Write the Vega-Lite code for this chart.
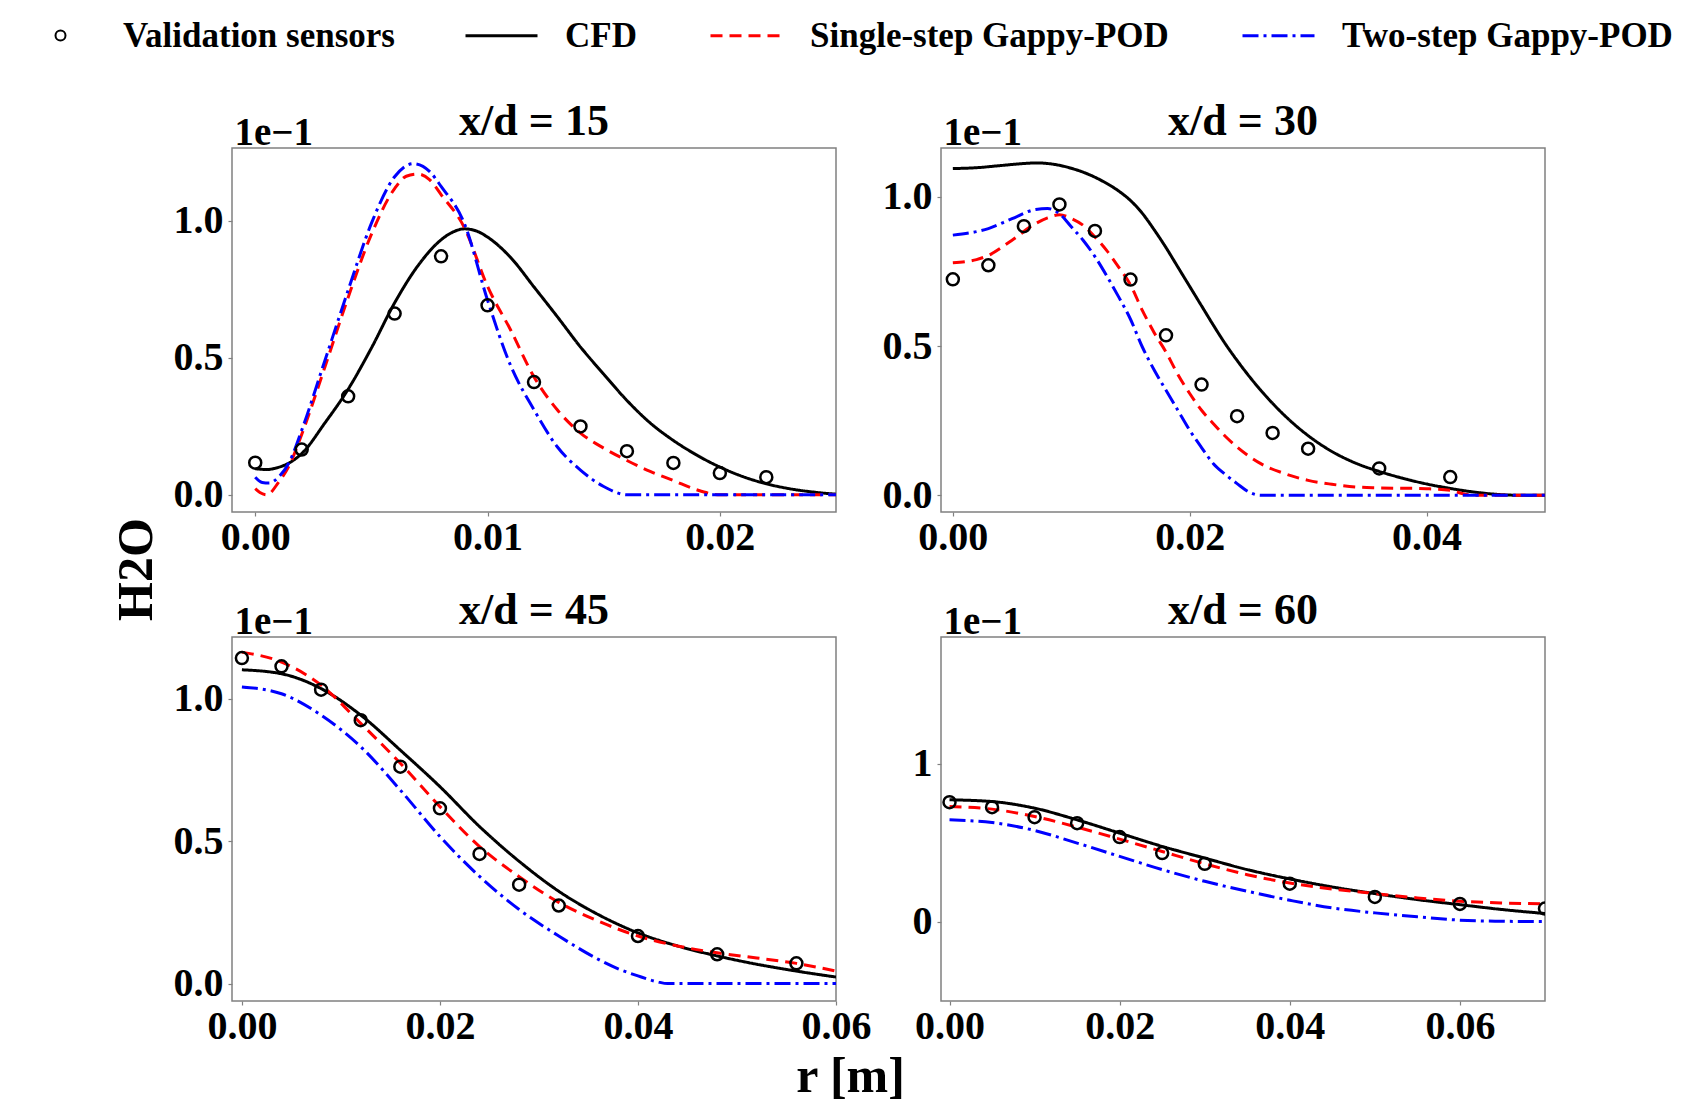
{
  "$schema": "https://vega.github.io/schema/vega-lite/v6.json",
  "padding": {"left": 43, "top": 18, "right": 5, "bottom": 5},
  "background": "white",
  "datasets": {
    "lines": [
      {"panel": 15, "method": "CFD", "r": 0, "v": 0.095},
      {"panel": 15, "method": "CFD", "r": 0.0005, "v": 0.092},
      {"panel": 15, "method": "CFD", "r": 0.001, "v": 0.1},
      {"panel": 15, "method": "CFD", "r": 0.0015, "v": 0.118},
      {"panel": 15, "method": "CFD", "r": 0.002, "v": 0.15},
      {"panel": 15, "method": "CFD", "r": 0.003, "v": 0.262},
      {"panel": 15, "method": "CFD", "r": 0.004, "v": 0.385},
      {"panel": 15, "method": "CFD", "r": 0.005, "v": 0.535},
      {"panel": 15, "method": "CFD", "r": 0.006, "v": 0.7},
      {"panel": 15, "method": "CFD", "r": 0.007, "v": 0.835},
      {"panel": 15, "method": "CFD", "r": 0.008, "v": 0.93},
      {"panel": 15, "method": "CFD", "r": 0.0085, "v": 0.958},
      {"panel": 15, "method": "CFD", "r": 0.009, "v": 0.97},
      {"panel": 15, "method": "CFD", "r": 0.0095, "v": 0.963},
      {"panel": 15, "method": "CFD", "r": 0.01, "v": 0.94},
      {"panel": 15, "method": "CFD", "r": 0.011, "v": 0.865},
      {"panel": 15, "method": "CFD", "r": 0.012, "v": 0.758},
      {"panel": 15, "method": "CFD", "r": 0.013, "v": 0.65},
      {"panel": 15, "method": "CFD", "r": 0.014, "v": 0.539},
      {"panel": 15, "method": "CFD", "r": 0.015, "v": 0.44},
      {"panel": 15, "method": "CFD", "r": 0.016, "v": 0.344},
      {"panel": 15, "method": "CFD", "r": 0.017, "v": 0.262},
      {"panel": 15, "method": "CFD", "r": 0.018, "v": 0.198},
      {"panel": 15, "method": "CFD", "r": 0.019, "v": 0.145},
      {"panel": 15, "method": "CFD", "r": 0.02, "v": 0.101},
      {"panel": 15, "method": "CFD", "r": 0.021, "v": 0.066},
      {"panel": 15, "method": "CFD", "r": 0.022, "v": 0.04},
      {"panel": 15, "method": "CFD", "r": 0.023, "v": 0.022},
      {"panel": 15, "method": "CFD", "r": 0.024, "v": 0.01},
      {"panel": 15, "method": "CFD", "r": 0.025, "v": 0.002},

      {"panel": 15, "method": "Single-step Gappy-POD", "r": 0, "v": 0.022},
      {"panel": 15, "method": "Single-step Gappy-POD", "r": 0.0002, "v": 0.008},
      {"panel": 15, "method": "Single-step Gappy-POD", "r": 0.0005, "v": 0.0},
      {"panel": 15, "method": "Single-step Gappy-POD", "r": 0.001, "v": 0.045},
      {"panel": 15, "method": "Single-step Gappy-POD", "r": 0.0015, "v": 0.113},
      {"panel": 15, "method": "Single-step Gappy-POD", "r": 0.002, "v": 0.22},
      {"panel": 15, "method": "Single-step Gappy-POD", "r": 0.003, "v": 0.466},
      {"panel": 15, "method": "Single-step Gappy-POD", "r": 0.004, "v": 0.72},
      {"panel": 15, "method": "Single-step Gappy-POD", "r": 0.005, "v": 0.95},
      {"panel": 15, "method": "Single-step Gappy-POD", "r": 0.006, "v": 1.117},
      {"panel": 15, "method": "Single-step Gappy-POD", "r": 0.0065, "v": 1.162},
      {"panel": 15, "method": "Single-step Gappy-POD", "r": 0.007, "v": 1.17},
      {"panel": 15, "method": "Single-step Gappy-POD", "r": 0.0075, "v": 1.15},
      {"panel": 15, "method": "Single-step Gappy-POD", "r": 0.008, "v": 1.095},
      {"panel": 15, "method": "Single-step Gappy-POD", "r": 0.009, "v": 0.975},
      {"panel": 15, "method": "Single-step Gappy-POD", "r": 0.01, "v": 0.76},
      {"panel": 15, "method": "Single-step Gappy-POD", "r": 0.011, "v": 0.6},
      {"panel": 15, "method": "Single-step Gappy-POD", "r": 0.012, "v": 0.43},
      {"panel": 15, "method": "Single-step Gappy-POD", "r": 0.013, "v": 0.31},
      {"panel": 15, "method": "Single-step Gappy-POD", "r": 0.014, "v": 0.225},
      {"panel": 15, "method": "Single-step Gappy-POD", "r": 0.015, "v": 0.17},
      {"panel": 15, "method": "Single-step Gappy-POD", "r": 0.016, "v": 0.125},
      {"panel": 15, "method": "Single-step Gappy-POD", "r": 0.017, "v": 0.085},
      {"panel": 15, "method": "Single-step Gappy-POD", "r": 0.018, "v": 0.052},
      {"panel": 15, "method": "Single-step Gappy-POD", "r": 0.019, "v": 0.018},
      {"panel": 15, "method": "Single-step Gappy-POD", "r": 0.02, "v": 0.0},
      {"panel": 15, "method": "Single-step Gappy-POD", "r": 0.025, "v": 0.0},

      {"panel": 15, "method": "Two-step Gappy-POD", "r": 0, "v": 0.064},
      {"panel": 15, "method": "Two-step Gappy-POD", "r": 0.0003, "v": 0.045},
      {"panel": 15, "method": "Two-step Gappy-POD", "r": 0.0006, "v": 0.043},
      {"panel": 15, "method": "Two-step Gappy-POD", "r": 0.001, "v": 0.064},
      {"panel": 15, "method": "Two-step Gappy-POD", "r": 0.0015, "v": 0.125},
      {"panel": 15, "method": "Two-step Gappy-POD", "r": 0.002, "v": 0.235},
      {"panel": 15, "method": "Two-step Gappy-POD", "r": 0.003, "v": 0.49},
      {"panel": 15, "method": "Two-step Gappy-POD", "r": 0.004, "v": 0.746},
      {"panel": 15, "method": "Two-step Gappy-POD", "r": 0.005, "v": 0.99},
      {"panel": 15, "method": "Two-step Gappy-POD", "r": 0.006, "v": 1.16},
      {"panel": 15, "method": "Two-step Gappy-POD", "r": 0.0068, "v": 1.208},
      {"panel": 15, "method": "Two-step Gappy-POD", "r": 0.0075, "v": 1.18},
      {"panel": 15, "method": "Two-step Gappy-POD", "r": 0.008, "v": 1.125},
      {"panel": 15, "method": "Two-step Gappy-POD", "r": 0.009, "v": 0.99},
      {"panel": 15, "method": "Two-step Gappy-POD", "r": 0.01, "v": 0.71},
      {"panel": 15, "method": "Two-step Gappy-POD", "r": 0.011, "v": 0.47},
      {"panel": 15, "method": "Two-step Gappy-POD", "r": 0.012, "v": 0.31},
      {"panel": 15, "method": "Two-step Gappy-POD", "r": 0.013, "v": 0.175},
      {"panel": 15, "method": "Two-step Gappy-POD", "r": 0.014, "v": 0.09},
      {"panel": 15, "method": "Two-step Gappy-POD", "r": 0.015, "v": 0.03},
      {"panel": 15, "method": "Two-step Gappy-POD", "r": 0.016, "v": 0.0},
      {"panel": 15, "method": "Two-step Gappy-POD", "r": 0.025, "v": 0.0},

      {"panel": 30, "method": "CFD", "r": 0, "v": 1.095},
      {"panel": 30, "method": "CFD", "r": 0.002, "v": 1.098},
      {"panel": 30, "method": "CFD", "r": 0.004, "v": 1.105},
      {"panel": 30, "method": "CFD", "r": 0.006, "v": 1.112},
      {"panel": 30, "method": "CFD", "r": 0.007, "v": 1.114},
      {"panel": 30, "method": "CFD", "r": 0.008, "v": 1.112},
      {"panel": 30, "method": "CFD", "r": 0.009, "v": 1.106},
      {"panel": 30, "method": "CFD", "r": 0.01, "v": 1.096},
      {"panel": 30, "method": "CFD", "r": 0.011, "v": 1.083},
      {"panel": 30, "method": "CFD", "r": 0.012, "v": 1.066},
      {"panel": 30, "method": "CFD", "r": 0.013, "v": 1.045},
      {"panel": 30, "method": "CFD", "r": 0.014, "v": 1.02},
      {"panel": 30, "method": "CFD", "r": 0.015, "v": 0.988},
      {"panel": 30, "method": "CFD", "r": 0.016, "v": 0.945},
      {"panel": 30, "method": "CFD", "r": 0.017, "v": 0.89},
      {"panel": 30, "method": "CFD", "r": 0.018, "v": 0.83},
      {"panel": 30, "method": "CFD", "r": 0.019, "v": 0.765},
      {"panel": 30, "method": "CFD", "r": 0.02, "v": 0.7},
      {"panel": 30, "method": "CFD", "r": 0.021, "v": 0.635},
      {"panel": 30, "method": "CFD", "r": 0.022, "v": 0.57},
      {"panel": 30, "method": "CFD", "r": 0.023, "v": 0.508},
      {"panel": 30, "method": "CFD", "r": 0.024, "v": 0.452},
      {"panel": 30, "method": "CFD", "r": 0.025, "v": 0.4},
      {"panel": 30, "method": "CFD", "r": 0.026, "v": 0.352},
      {"panel": 30, "method": "CFD", "r": 0.028, "v": 0.268},
      {"panel": 30, "method": "CFD", "r": 0.03, "v": 0.2},
      {"panel": 30, "method": "CFD", "r": 0.032, "v": 0.147},
      {"panel": 30, "method": "CFD", "r": 0.034, "v": 0.108},
      {"panel": 30, "method": "CFD", "r": 0.036, "v": 0.08},
      {"panel": 30, "method": "CFD", "r": 0.038, "v": 0.057},
      {"panel": 30, "method": "CFD", "r": 0.04, "v": 0.038},
      {"panel": 30, "method": "CFD", "r": 0.042, "v": 0.023},
      {"panel": 30, "method": "CFD", "r": 0.044, "v": 0.011},
      {"panel": 30, "method": "CFD", "r": 0.046, "v": 0.003},
      {"panel": 30, "method": "CFD", "r": 0.048, "v": 0.0},
      {"panel": 30, "method": "CFD", "r": 0.05, "v": 0.0},

      {"panel": 30, "method": "Single-step Gappy-POD", "r": 0, "v": 0.779},
      {"panel": 30, "method": "Single-step Gappy-POD", "r": 0.002, "v": 0.79},
      {"panel": 30, "method": "Single-step Gappy-POD", "r": 0.003, "v": 0.804},
      {"panel": 30, "method": "Single-step Gappy-POD", "r": 0.005, "v": 0.855},
      {"panel": 30, "method": "Single-step Gappy-POD", "r": 0.007, "v": 0.911},
      {"panel": 30, "method": "Single-step Gappy-POD", "r": 0.008, "v": 0.93},
      {"panel": 30, "method": "Single-step Gappy-POD", "r": 0.009, "v": 0.94},
      {"panel": 30, "method": "Single-step Gappy-POD", "r": 0.01, "v": 0.928},
      {"panel": 30, "method": "Single-step Gappy-POD", "r": 0.011, "v": 0.905},
      {"panel": 30, "method": "Single-step Gappy-POD", "r": 0.012, "v": 0.866},
      {"panel": 30, "method": "Single-step Gappy-POD", "r": 0.013, "v": 0.82},
      {"panel": 30, "method": "Single-step Gappy-POD", "r": 0.014, "v": 0.765},
      {"panel": 30, "method": "Single-step Gappy-POD", "r": 0.015, "v": 0.705},
      {"panel": 30, "method": "Single-step Gappy-POD", "r": 0.016, "v": 0.62},
      {"panel": 30, "method": "Single-step Gappy-POD", "r": 0.017, "v": 0.545},
      {"panel": 30, "method": "Single-step Gappy-POD", "r": 0.018, "v": 0.48},
      {"panel": 30, "method": "Single-step Gappy-POD", "r": 0.019, "v": 0.405},
      {"panel": 30, "method": "Single-step Gappy-POD", "r": 0.02, "v": 0.341},
      {"panel": 30, "method": "Single-step Gappy-POD", "r": 0.021, "v": 0.285},
      {"panel": 30, "method": "Single-step Gappy-POD", "r": 0.022, "v": 0.24},
      {"panel": 30, "method": "Single-step Gappy-POD", "r": 0.023, "v": 0.198},
      {"panel": 30, "method": "Single-step Gappy-POD", "r": 0.024, "v": 0.162},
      {"panel": 30, "method": "Single-step Gappy-POD", "r": 0.026, "v": 0.106},
      {"panel": 30, "method": "Single-step Gappy-POD", "r": 0.028, "v": 0.073},
      {"panel": 30, "method": "Single-step Gappy-POD", "r": 0.03, "v": 0.05},
      {"panel": 30, "method": "Single-step Gappy-POD", "r": 0.032, "v": 0.037},
      {"panel": 30, "method": "Single-step Gappy-POD", "r": 0.034, "v": 0.028},
      {"panel": 30, "method": "Single-step Gappy-POD", "r": 0.036, "v": 0.025},
      {"panel": 30, "method": "Single-step Gappy-POD", "r": 0.04, "v": 0.022},
      {"panel": 30, "method": "Single-step Gappy-POD", "r": 0.042, "v": 0.017},
      {"panel": 30, "method": "Single-step Gappy-POD", "r": 0.043, "v": 0.006},
      {"panel": 30, "method": "Single-step Gappy-POD", "r": 0.044, "v": 0.0},
      {"panel": 30, "method": "Single-step Gappy-POD", "r": 0.05, "v": 0.0},

      {"panel": 30, "method": "Two-step Gappy-POD", "r": 0, "v": 0.872},
      {"panel": 30, "method": "Two-step Gappy-POD", "r": 0.003, "v": 0.894},
      {"panel": 30, "method": "Two-step Gappy-POD", "r": 0.005, "v": 0.927},
      {"panel": 30, "method": "Two-step Gappy-POD", "r": 0.007, "v": 0.958},
      {"panel": 30, "method": "Two-step Gappy-POD", "r": 0.008, "v": 0.961},
      {"panel": 30, "method": "Two-step Gappy-POD", "r": 0.009, "v": 0.944},
      {"panel": 30, "method": "Two-step Gappy-POD", "r": 0.01, "v": 0.9},
      {"panel": 30, "method": "Two-step Gappy-POD", "r": 0.011, "v": 0.855},
      {"panel": 30, "method": "Two-step Gappy-POD", "r": 0.012, "v": 0.8},
      {"panel": 30, "method": "Two-step Gappy-POD", "r": 0.013, "v": 0.735},
      {"panel": 30, "method": "Two-step Gappy-POD", "r": 0.014, "v": 0.665},
      {"panel": 30, "method": "Two-step Gappy-POD", "r": 0.015, "v": 0.59},
      {"panel": 30, "method": "Two-step Gappy-POD", "r": 0.016, "v": 0.497},
      {"panel": 30, "method": "Two-step Gappy-POD", "r": 0.017, "v": 0.42},
      {"panel": 30, "method": "Two-step Gappy-POD", "r": 0.018, "v": 0.352},
      {"panel": 30, "method": "Two-step Gappy-POD", "r": 0.019, "v": 0.285},
      {"panel": 30, "method": "Two-step Gappy-POD", "r": 0.02, "v": 0.218},
      {"panel": 30, "method": "Two-step Gappy-POD", "r": 0.021, "v": 0.16},
      {"panel": 30, "method": "Two-step Gappy-POD", "r": 0.022, "v": 0.106},
      {"panel": 30, "method": "Two-step Gappy-POD", "r": 0.023, "v": 0.07},
      {"panel": 30, "method": "Two-step Gappy-POD", "r": 0.024, "v": 0.039},
      {"panel": 30, "method": "Two-step Gappy-POD", "r": 0.025, "v": 0.011},
      {"panel": 30, "method": "Two-step Gappy-POD", "r": 0.026, "v": 0.0},
      {"panel": 30, "method": "Two-step Gappy-POD", "r": 0.05, "v": 0.0},

      {"panel": 45, "method": "CFD", "r": 0, "v": 1.101},
      {"panel": 45, "method": "CFD", "r": 0.004, "v": 1.087},
      {"panel": 45, "method": "CFD", "r": 0.008, "v": 1.035},
      {"panel": 45, "method": "CFD", "r": 0.012, "v": 0.942},
      {"panel": 45, "method": "CFD", "r": 0.016, "v": 0.819},
      {"panel": 45, "method": "CFD", "r": 0.02, "v": 0.691},
      {"panel": 45, "method": "CFD", "r": 0.024, "v": 0.551},
      {"panel": 45, "method": "CFD", "r": 0.028, "v": 0.429},
      {"panel": 45, "method": "CFD", "r": 0.032, "v": 0.324},
      {"panel": 45, "method": "CFD", "r": 0.036, "v": 0.242},
      {"panel": 45, "method": "CFD", "r": 0.04, "v": 0.178},
      {"panel": 45, "method": "CFD", "r": 0.044, "v": 0.132},
      {"panel": 45, "method": "CFD", "r": 0.048, "v": 0.097},
      {"panel": 45, "method": "CFD", "r": 0.052, "v": 0.068},
      {"panel": 45, "method": "CFD", "r": 0.056, "v": 0.044},
      {"panel": 45, "method": "CFD", "r": 0.06, "v": 0.023},

      {"panel": 45, "method": "Single-step Gappy-POD", "r": 0, "v": 1.163},
      {"panel": 45, "method": "Single-step Gappy-POD", "r": 0.004, "v": 1.128},
      {"panel": 45, "method": "Single-step Gappy-POD", "r": 0.008, "v": 1.047},
      {"panel": 45, "method": "Single-step Gappy-POD", "r": 0.012, "v": 0.913},
      {"panel": 45, "method": "Single-step Gappy-POD", "r": 0.016, "v": 0.773},
      {"panel": 45, "method": "Single-step Gappy-POD", "r": 0.02, "v": 0.621},
      {"panel": 45, "method": "Single-step Gappy-POD", "r": 0.024, "v": 0.481},
      {"panel": 45, "method": "Single-step Gappy-POD", "r": 0.028, "v": 0.375},
      {"panel": 45, "method": "Single-step Gappy-POD", "r": 0.032, "v": 0.285},
      {"panel": 45, "method": "Single-step Gappy-POD", "r": 0.036, "v": 0.219},
      {"panel": 45, "method": "Single-step Gappy-POD", "r": 0.04, "v": 0.167},
      {"panel": 45, "method": "Single-step Gappy-POD", "r": 0.044, "v": 0.132},
      {"panel": 45, "method": "Single-step Gappy-POD", "r": 0.048, "v": 0.108},
      {"panel": 45, "method": "Single-step Gappy-POD", "r": 0.052, "v": 0.09},
      {"panel": 45, "method": "Single-step Gappy-POD", "r": 0.056, "v": 0.071},
      {"panel": 45, "method": "Single-step Gappy-POD", "r": 0.06, "v": 0.044},

      {"panel": 45, "method": "Two-step Gappy-POD", "r": 0, "v": 1.041},
      {"panel": 45, "method": "Two-step Gappy-POD", "r": 0.004, "v": 1.017},
      {"panel": 45, "method": "Two-step Gappy-POD", "r": 0.008, "v": 0.942},
      {"panel": 45, "method": "Two-step Gappy-POD", "r": 0.012, "v": 0.831},
      {"panel": 45, "method": "Two-step Gappy-POD", "r": 0.016, "v": 0.679},
      {"panel": 45, "method": "Two-step Gappy-POD", "r": 0.02, "v": 0.516},
      {"panel": 45, "method": "Two-step Gappy-POD", "r": 0.024, "v": 0.376},
      {"panel": 45, "method": "Two-step Gappy-POD", "r": 0.028, "v": 0.26},
      {"panel": 45, "method": "Two-step Gappy-POD", "r": 0.032, "v": 0.167},
      {"panel": 45, "method": "Two-step Gappy-POD", "r": 0.036, "v": 0.085},
      {"panel": 45, "method": "Two-step Gappy-POD", "r": 0.038, "v": 0.052},
      {"panel": 45, "method": "Two-step Gappy-POD", "r": 0.04, "v": 0.027},
      {"panel": 45, "method": "Two-step Gappy-POD", "r": 0.042, "v": 0.006},
      {"panel": 45, "method": "Two-step Gappy-POD", "r": 0.043, "v": 0.0},
      {"panel": 45, "method": "Two-step Gappy-POD", "r": 0.06, "v": 0.0},

      {"panel": 60, "method": "CFD", "r": 0, "v": 0.773},
      {"panel": 60, "method": "CFD", "r": 0.005, "v": 0.762},
      {"panel": 60, "method": "CFD", "r": 0.01, "v": 0.72},
      {"panel": 60, "method": "CFD", "r": 0.015, "v": 0.646},
      {"panel": 60, "method": "CFD", "r": 0.02, "v": 0.562},
      {"panel": 60, "method": "CFD", "r": 0.025, "v": 0.478},
      {"panel": 60, "method": "CFD", "r": 0.03, "v": 0.404},
      {"panel": 60, "method": "CFD", "r": 0.035, "v": 0.331},
      {"panel": 60, "method": "CFD", "r": 0.04, "v": 0.272},
      {"panel": 60, "method": "CFD", "r": 0.045, "v": 0.221},
      {"panel": 60, "method": "CFD", "r": 0.05, "v": 0.179},
      {"panel": 60, "method": "CFD", "r": 0.055, "v": 0.141},
      {"panel": 60, "method": "CFD", "r": 0.06, "v": 0.109},
      {"panel": 60, "method": "CFD", "r": 0.065, "v": 0.078},
      {"panel": 60, "method": "CFD", "r": 0.07, "v": 0.053},

      {"panel": 60, "method": "Single-step Gappy-POD", "r": 0, "v": 0.731},
      {"panel": 60, "method": "Single-step Gappy-POD", "r": 0.005, "v": 0.714},
      {"panel": 60, "method": "Single-step Gappy-POD", "r": 0.01, "v": 0.667},
      {"panel": 60, "method": "Single-step Gappy-POD", "r": 0.015, "v": 0.6},
      {"panel": 60, "method": "Single-step Gappy-POD", "r": 0.02, "v": 0.524},
      {"panel": 60, "method": "Single-step Gappy-POD", "r": 0.025, "v": 0.446},
      {"panel": 60, "method": "Single-step Gappy-POD", "r": 0.03, "v": 0.368},
      {"panel": 60, "method": "Single-step Gappy-POD", "r": 0.035, "v": 0.299},
      {"panel": 60, "method": "Single-step Gappy-POD", "r": 0.04, "v": 0.246},
      {"panel": 60, "method": "Single-step Gappy-POD", "r": 0.045, "v": 0.208},
      {"panel": 60, "method": "Single-step Gappy-POD", "r": 0.05, "v": 0.179},
      {"panel": 60, "method": "Single-step Gappy-POD", "r": 0.055, "v": 0.152},
      {"panel": 60, "method": "Single-step Gappy-POD", "r": 0.06, "v": 0.131},
      {"panel": 60, "method": "Single-step Gappy-POD", "r": 0.065, "v": 0.12},
      {"panel": 60, "method": "Single-step Gappy-POD", "r": 0.07, "v": 0.114},

      {"panel": 60, "method": "Two-step Gappy-POD", "r": 0, "v": 0.646},
      {"panel": 60, "method": "Two-step Gappy-POD", "r": 0.005, "v": 0.629},
      {"panel": 60, "method": "Two-step Gappy-POD", "r": 0.01, "v": 0.579},
      {"panel": 60, "method": "Two-step Gappy-POD", "r": 0.015, "v": 0.499},
      {"panel": 60, "method": "Two-step Gappy-POD", "r": 0.02, "v": 0.415},
      {"panel": 60, "method": "Two-step Gappy-POD", "r": 0.025, "v": 0.331},
      {"panel": 60, "method": "Two-step Gappy-POD", "r": 0.03, "v": 0.257},
      {"panel": 60, "method": "Two-step Gappy-POD", "r": 0.035, "v": 0.194},
      {"panel": 60, "method": "Two-step Gappy-POD", "r": 0.04, "v": 0.137},
      {"panel": 60, "method": "Two-step Gappy-POD", "r": 0.045, "v": 0.088},
      {"panel": 60, "method": "Two-step Gappy-POD", "r": 0.05, "v": 0.057},
      {"panel": 60, "method": "Two-step Gappy-POD", "r": 0.055, "v": 0.032},
      {"panel": 60, "method": "Two-step Gappy-POD", "r": 0.06, "v": 0.011},
      {"panel": 60, "method": "Two-step Gappy-POD", "r": 0.065, "v": 0.004},
      {"panel": 60, "method": "Two-step Gappy-POD", "r": 0.07, "v": 0.002}
    ],
    "sensors": [
      {"panel": 15, "kind": "Validation sensors", "r": 0, "v": 0.117},
      {"panel": 15, "kind": "Validation sensors", "r": 0.002, "v": 0.165},
      {"panel": 15, "kind": "Validation sensors", "r": 0.004, "v": 0.359},
      {"panel": 15, "kind": "Validation sensors", "r": 0.006, "v": 0.661},
      {"panel": 15, "kind": "Validation sensors", "r": 0.008, "v": 0.87},
      {"panel": 15, "kind": "Validation sensors", "r": 0.01, "v": 0.691},
      {"panel": 15, "kind": "Validation sensors", "r": 0.012, "v": 0.411},
      {"panel": 15, "kind": "Validation sensors", "r": 0.014, "v": 0.249},
      {"panel": 15, "kind": "Validation sensors", "r": 0.016, "v": 0.159},
      {"panel": 15, "kind": "Validation sensors", "r": 0.018, "v": 0.116},
      {"panel": 15, "kind": "Validation sensors", "r": 0.02, "v": 0.079},
      {"panel": 15, "kind": "Validation sensors", "r": 0.022, "v": 0.064},
      {"panel": 30, "kind": "Validation sensors", "r": 0, "v": 0.724},
      {"panel": 30, "kind": "Validation sensors", "r": 0.003, "v": 0.771},
      {"panel": 30, "kind": "Validation sensors", "r": 0.006, "v": 0.902},
      {"panel": 30, "kind": "Validation sensors", "r": 0.009, "v": 0.975},
      {"panel": 30, "kind": "Validation sensors", "r": 0.012, "v": 0.886},
      {"panel": 30, "kind": "Validation sensors", "r": 0.015, "v": 0.723},
      {"panel": 30, "kind": "Validation sensors", "r": 0.018, "v": 0.536},
      {"panel": 30, "kind": "Validation sensors", "r": 0.021, "v": 0.371},
      {"panel": 30, "kind": "Validation sensors", "r": 0.024, "v": 0.265},
      {"panel": 30, "kind": "Validation sensors", "r": 0.027, "v": 0.209},
      {"panel": 30, "kind": "Validation sensors", "r": 0.03, "v": 0.156},
      {"panel": 30, "kind": "Validation sensors", "r": 0.036, "v": 0.09},
      {"panel": 30, "kind": "Validation sensors", "r": 0.042, "v": 0.061},
      {"panel": 45, "kind": "Validation sensors", "r": 0, "v": 1.142},
      {"panel": 45, "kind": "Validation sensors", "r": 0.004, "v": 1.113},
      {"panel": 45, "kind": "Validation sensors", "r": 0.008, "v": 1.031},
      {"panel": 45, "kind": "Validation sensors", "r": 0.012, "v": 0.924},
      {"panel": 45, "kind": "Validation sensors", "r": 0.016, "v": 0.761},
      {"panel": 45, "kind": "Validation sensors", "r": 0.02, "v": 0.615},
      {"panel": 45, "kind": "Validation sensors", "r": 0.024, "v": 0.455},
      {"panel": 45, "kind": "Validation sensors", "r": 0.028, "v": 0.347},
      {"panel": 45, "kind": "Validation sensors", "r": 0.032, "v": 0.274},
      {"panel": 45, "kind": "Validation sensors", "r": 0.04, "v": 0.167},
      {"panel": 45, "kind": "Validation sensors", "r": 0.048, "v": 0.103},
      {"panel": 45, "kind": "Validation sensors", "r": 0.056, "v": 0.071},
      {"panel": 60, "kind": "Validation sensors", "r": 0, "v": 0.758},
      {"panel": 60, "kind": "Validation sensors", "r": 0.005, "v": 0.726},
      {"panel": 60, "kind": "Validation sensors", "r": 0.01, "v": 0.663},
      {"panel": 60, "kind": "Validation sensors", "r": 0.015, "v": 0.625},
      {"panel": 60, "kind": "Validation sensors", "r": 0.02, "v": 0.537},
      {"panel": 60, "kind": "Validation sensors", "r": 0.025, "v": 0.436},
      {"panel": 60, "kind": "Validation sensors", "r": 0.03, "v": 0.368},
      {"panel": 60, "kind": "Validation sensors", "r": 0.04, "v": 0.242},
      {"panel": 60, "kind": "Validation sensors", "r": 0.05, "v": 0.158},
      {"panel": 60, "kind": "Validation sensors", "r": 0.06, "v": 0.114},
      {"panel": 60, "kind": "Validation sensors", "r": 0.07, "v": 0.084}
    ]
  },
  "columns": 2,
  "spacing": {"row": 125, "column": 105},
  "bounds": "flush",
  "concat": [
    {
      "width": 604, "height": 364,
      "title": {"text": "x/d = 15"},
      "layer": [
        {
          "data": {"name": "lines"},
          "transform": [{"filter": "datum.panel == 15"}],
          "mark": {"type": "line", "strokeWidth": 3, "clip": true, "interpolate": "monotone"},
          "encoding": {
            "x": {"field": "r", "type": "quantitative", "scale": {"domain": [-0.001, 0.025], "nice": false, "zero": false},
                  "axis": {"values": [0, 0.01, 0.02], "format": ".2f", "title": "1e−1", "titleFontSize": 39, "titleAngle": 0, "titleAlign": "left", "titleBaseline": "alphabetic", "titleX": 2, "titleY": -368}},
            "y": {"field": "v", "type": "quantitative", "scale": {"domain": [-0.063, 1.265], "nice": false, "zero": false},
                  "axis": {"values": [0, 0.5, 1.0], "format": ".1f", "title": "H2O", "titleFontSize": 50, "titleAngle": -90, "titleAlign": "center", "titleBaseline": "middle", "titleX": -96, "titleY": 421}},
            "color": {"field": "method", "type": "nominal", "scale": {"domain": ["CFD", "Single-step Gappy-POD", "Two-step Gappy-POD"], "range": ["#000000", "#ff0000", "#0000ff"]},
                      "legend": {"title": null, "orient": "none", "legendX": 252, "legendY": -130, "direction": "horizontal", "symbolType": "M-6,0H6", "symbolSize": 144, "symbolStrokeWidth": 3, "labelOffset": 46, "columnPadding": 67}},
            "strokeDash": {"field": "method", "type": "nominal", "scale": {"domain": ["CFD", "Single-step Gappy-POD", "Two-step Gappy-POD"], "range": [[1, 0], [12, 7], [16, 5, 3, 5]]},
                      "legend": {"title": null, "orient": "none", "legendX": 252, "legendY": -130, "direction": "horizontal", "symbolType": "M-6,0H6", "symbolSize": 144, "symbolStrokeWidth": 3, "labelOffset": 46, "columnPadding": 67}}
          }
        },
        {
          "data": {"name": "sensors"},
          "transform": [{"filter": "datum.panel == 15"}],
          "mark": {"type": "point", "filled": false, "size": 144, "strokeWidth": 2.5, "color": "#000000", "opacity": 1, "clip": true},
          "encoding": {
            "x": {"field": "r", "type": "quantitative"},
            "y": {"field": "v", "type": "quantitative"},
            "shape": {"field": "kind", "type": "nominal", "scale": {"range": ["circle"]},
                      "legend": {"title": null, "orient": "none", "legendX": -189, "legendY": -130, "symbolSize": 100, "symbolStrokeWidth": 2, "symbolStrokeColor": "#000000", "symbolFillColor": "transparent", "labelOffset": 45}}
          }
        }
      ]
    },
    {
      "width": 604, "height": 364,
      "title": {"text": "x/d = 30"},
      "layer": [
        {
          "data": {"name": "lines"},
          "transform": [{"filter": "datum.panel == 30"}],
          "mark": {"type": "line", "strokeWidth": 3, "clip": true, "interpolate": "monotone"},
          "encoding": {
            "x": {"field": "r", "type": "quantitative", "scale": {"domain": [-0.001, 0.05], "nice": false, "zero": false},
                  "axis": {"values": [0, 0.02, 0.04], "format": ".2f", "title": null}},
            "y": {"field": "v", "type": "quantitative", "scale": {"domain": [-0.056, 1.164], "nice": false, "zero": false},
                  "axis": {"values": [0, 0.5, 1.0], "format": ".1f", "title": "1e−1", "titleFontSize": 39, "titleAngle": 0, "titleAlign": "left", "titleBaseline": "alphabetic", "titleX": 2, "titleY": -4}},
            "color": {"field": "method", "type": "nominal", "scale": {"domain": ["CFD", "Single-step Gappy-POD", "Two-step Gappy-POD"], "range": ["#000000", "#ff0000", "#0000ff"]},
                      "legend": {"title": null, "orient": "none", "legendX": 252, "legendY": -130, "direction": "horizontal", "symbolType": "M-6,0H6", "symbolSize": 144, "symbolStrokeWidth": 3, "labelOffset": 46, "columnPadding": 67}},
            "strokeDash": {"field": "method", "type": "nominal", "scale": {"domain": ["CFD", "Single-step Gappy-POD", "Two-step Gappy-POD"], "range": [[1, 0], [12, 7], [16, 5, 3, 5]]},
                      "legend": {"title": null, "orient": "none", "legendX": 252, "legendY": -130, "direction": "horizontal", "symbolType": "M-6,0H6", "symbolSize": 144, "symbolStrokeWidth": 3, "labelOffset": 46, "columnPadding": 67}}
          }
        },
        {
          "data": {"name": "sensors"},
          "transform": [{"filter": "datum.panel == 30"}],
          "mark": {"type": "point", "filled": false, "size": 144, "strokeWidth": 2.5, "color": "#000000", "opacity": 1, "clip": true},
          "encoding": {
            "x": {"field": "r", "type": "quantitative"},
            "y": {"field": "v", "type": "quantitative"},
            "shape": {"field": "kind", "type": "nominal", "scale": {"range": ["circle"]},
                      "legend": {"title": null, "orient": "none", "legendX": -189, "legendY": -130, "symbolSize": 100, "symbolStrokeWidth": 2, "symbolStrokeColor": "#000000", "symbolFillColor": "transparent", "labelOffset": 45}}
          }
        }
      ]
    },
    {
      "width": 604, "height": 364,
      "title": {"text": "x/d = 45"},
      "layer": [
        {
          "data": {"name": "lines"},
          "transform": [{"filter": "datum.panel == 45"}],
          "mark": {"type": "line", "strokeWidth": 3, "clip": true, "interpolate": "monotone"},
          "encoding": {
            "x": {"field": "r", "type": "quantitative", "scale": {"domain": [-0.001, 0.06], "nice": false, "zero": false},
                  "axis": {"values": [0, 0.02, 0.04, 0.06], "format": ".2f", "title": "r [m]", "titleFontSize": 50, "titleAngle": 0, "titleAlign": "center", "titleBaseline": "alphabetic", "titleX": 618, "titleY": 90}},
            "y": {"field": "v", "type": "quantitative", "scale": {"domain": [-0.061, 1.216], "nice": false, "zero": false},
                  "axis": {"values": [0, 0.5, 1.0], "format": ".1f", "title": "1e−1", "titleFontSize": 39, "titleAngle": 0, "titleAlign": "left", "titleBaseline": "alphabetic", "titleX": 2, "titleY": -4}},
            "color": {"field": "method", "type": "nominal", "scale": {"domain": ["CFD", "Single-step Gappy-POD", "Two-step Gappy-POD"], "range": ["#000000", "#ff0000", "#0000ff"]},
                      "legend": {"title": null, "orient": "none", "legendX": 252, "legendY": -130, "direction": "horizontal", "symbolType": "M-6,0H6", "symbolSize": 144, "symbolStrokeWidth": 3, "labelOffset": 46, "columnPadding": 67}},
            "strokeDash": {"field": "method", "type": "nominal", "scale": {"domain": ["CFD", "Single-step Gappy-POD", "Two-step Gappy-POD"], "range": [[1, 0], [12, 7], [16, 5, 3, 5]]},
                      "legend": {"title": null, "orient": "none", "legendX": 252, "legendY": -130, "direction": "horizontal", "symbolType": "M-6,0H6", "symbolSize": 144, "symbolStrokeWidth": 3, "labelOffset": 46, "columnPadding": 67}}
          }
        },
        {
          "data": {"name": "sensors"},
          "transform": [{"filter": "datum.panel == 45"}],
          "mark": {"type": "point", "filled": false, "size": 144, "strokeWidth": 2.5, "color": "#000000", "opacity": 1, "clip": true},
          "encoding": {
            "x": {"field": "r", "type": "quantitative"},
            "y": {"field": "v", "type": "quantitative"},
            "shape": {"field": "kind", "type": "nominal", "scale": {"range": ["circle"]},
                      "legend": {"title": null, "orient": "none", "legendX": -189, "legendY": -130, "symbolSize": 100, "symbolStrokeWidth": 2, "symbolStrokeColor": "#000000", "symbolFillColor": "transparent", "labelOffset": 45}}
          }
        }
      ]
    },
    {
      "width": 604, "height": 364,
      "title": {"text": "x/d = 60"},
      "layer": [
        {
          "data": {"name": "lines"},
          "transform": [{"filter": "datum.panel == 60"}],
          "mark": {"type": "line", "strokeWidth": 3, "clip": true, "interpolate": "monotone"},
          "encoding": {
            "x": {"field": "r", "type": "quantitative", "scale": {"domain": [-0.001, 0.07], "nice": false, "zero": false},
                  "axis": {"values": [0, 0.02, 0.04, 0.06], "format": ".2f", "title": null}},
            "y": {"field": "v", "type": "quantitative", "scale": {"domain": [-0.501, 1.804], "nice": false, "zero": false},
                  "axis": {"values": [0, 1], "format": "d", "title": "1e−1", "titleFontSize": 39, "titleAngle": 0, "titleAlign": "left", "titleBaseline": "alphabetic", "titleX": 2, "titleY": -4}},
            "color": {"field": "method", "type": "nominal", "scale": {"domain": ["CFD", "Single-step Gappy-POD", "Two-step Gappy-POD"], "range": ["#000000", "#ff0000", "#0000ff"]},
                      "legend": {"title": null, "orient": "none", "legendX": 252, "legendY": -130, "direction": "horizontal", "symbolType": "M-6,0H6", "symbolSize": 144, "symbolStrokeWidth": 3, "labelOffset": 46, "columnPadding": 67}},
            "strokeDash": {"field": "method", "type": "nominal", "scale": {"domain": ["CFD", "Single-step Gappy-POD", "Two-step Gappy-POD"], "range": [[1, 0], [12, 7], [16, 5, 3, 5]]},
                      "legend": {"title": null, "orient": "none", "legendX": 252, "legendY": -130, "direction": "horizontal", "symbolType": "M-6,0H6", "symbolSize": 144, "symbolStrokeWidth": 3, "labelOffset": 46, "columnPadding": 67}}
          }
        },
        {
          "data": {"name": "sensors"},
          "transform": [{"filter": "datum.panel == 60"}],
          "mark": {"type": "point", "filled": false, "size": 144, "strokeWidth": 2.5, "color": "#000000", "opacity": 1, "clip": true},
          "encoding": {
            "x": {"field": "r", "type": "quantitative"},
            "y": {"field": "v", "type": "quantitative"},
            "shape": {"field": "kind", "type": "nominal", "scale": {"range": ["circle"]},
                      "legend": {"title": null, "orient": "none", "legendX": -189, "legendY": -130, "symbolSize": 100, "symbolStrokeWidth": 2, "symbolStrokeColor": "#000000", "symbolFillColor": "transparent", "labelOffset": 45}}
          }
        }
      ]
    }
  ],
  "config": {
    "font": "Liberation Serif",
    "view": {"stroke": "#808080", "strokeWidth": 1.5},
    "axis": {"grid": false, "domain": false, "tickColor": "#808080", "tickSize": 4, "tickWidth": 1.2,
             "labelFont": "Liberation Serif", "labelFontSize": 40, "labelFontWeight": "bold", "labelColor": "#000000",
             "labelOverlap": false, "labelFlush": false, "labelBound": false,
             "titleFont": "Liberation Serif", "titleFontWeight": "bold", "titleColor": "#000000"},
    "axisX": {"labelPadding": 1},
    "axisY": {"labelPadding": 5},
    "legend": {"labelFont": "Liberation Serif", "labelFontSize": 35, "labelFontWeight": "bold", "labelColor": "#000000", "labelLimit": 1000, "padding": 0},
    "title": {"font": "Liberation Serif", "fontSize": 44, "fontWeight": "bold", "color": "#000000", "anchor": "middle", "frame": "group", "baseline": "alphabetic", "offset": -31}
  }
}
